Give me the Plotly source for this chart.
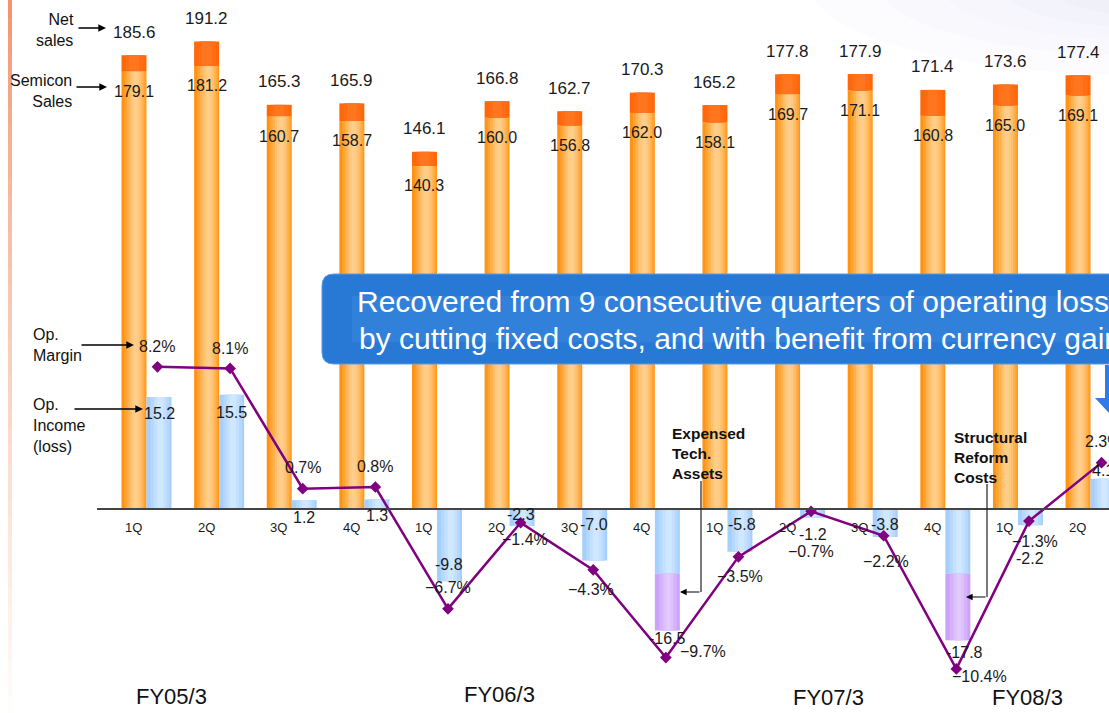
import plotly.graph_objects as go

# ---- data -------------------------------------------------------------
quarters = ["1Q", "2Q", "3Q", "4Q", "1Q", "2Q", "3Q", "4Q",
            "1Q", "2Q", "3Q", "4Q", "1Q", "2Q"]
fiscal_years = ["FY05/3", "FY06/3", "FY07/3", "FY08/3"]
net_sales = [185.6, 191.2, 165.3, 165.9, 146.1, 166.8, 162.7, 170.3,
             165.2, 177.8, 177.9, 171.4, 173.6, 177.4]
semicon_sales = [179.1, 181.2, 160.7, 158.7, 140.3, 160.0, 156.8, 162.0,
                 158.1, 169.7, 171.1, 160.8, 165.0, 169.1]
op_income = [15.2, 15.5, 1.2, 1.3, -9.8, -2.3, -7.0, -16.5,
             -5.8, -1.2, -3.8, -17.8, -2.2, 4.1]
one_time_charges = [0, 0, 0, 0, 0, 0, 0, 7.7, 0, 0, 0, 9.0, 0, 0]
op_margin = [8.2, 8.1, 0.7, 0.8, -6.7, -1.4, -4.3, -9.7,
             -3.5, -0.7, -2.2, -10.4, -1.3, 2.3]

# ---- page geometry ----------------------------------------------------
W, H = 1109, 713
X0, STEP = 146.5, 72.62          # pixel centre of first quarter, spacing
BAR = 25 / STEP                   # one bar width in category units
idx = list(range(len(quarters)))

REGULAR = "Liberation Sans, Arial, sans-serif"
VALUE_SIZE = 16                   # compact value labels


def xdata(px):
    return (px - X0) / STEP


def pxp(px, py):
    return px / W, 1 - py / H


fig = go.Figure()


def layered_bars(base, height, centre, layers, axis):
    """Several overlaid bars of shrinking width give a soft horizontal gradient."""
    for frac, shift, color in layers:
        w = BAR * frac
        fig.add_trace(go.Bar(
            x=idx, y=height, base=base, width=w,
            offset=centre + shift * BAR - w / 2,
            marker=dict(color=color, line=dict(width=0)),
            yaxis=axis, hoverinfo="skip", showlegend=False))


orange_layers = [(1.0, 0, "#FF9414"), (0.84, 0.04, "#FFA332"),
                 (0.66, 0.06, "#FFB24F"), (0.48, 0.07, "#FFBF6B"),
                 (0.30, 0.07, "#FFC97F"), (0.14, 0.07, "#FFCE8A")]
top_layers = [(1.0, 0, "#FF6708"), (0.7, 0.02, "#FF6E14"), (0.4, 0.0, "#FF761F")]
blue_layers = [(1.0, 0, "#A6CFFC"), (0.75, 0.04, "#B5D8FE"),
               (0.5, 0.05, "#C3E0FF"), (0.25, 0.05, "#CFE7FF")]
purple_layers = [(1.0, 0, "#CDA2FA"), (0.7, 0.03, "#D6B2FC"),
                 (0.4, 0.04, "#DEC2FE"), (0.15, 0.04, "#E3CBFF")]

core_income = [o + c for o, c in zip(op_income, one_time_charges)]
charge_height = [-c for c in one_time_charges]
top_height = [n - s for n, s in zip(net_sales, semicon_sales)]

layered_bars([0] * len(idx), semicon_sales, -BAR / 2, orange_layers, "y")
layered_bars(semicon_sales, top_height, -BAR / 2, top_layers, "y")
layered_bars([0] * len(idx), core_income, BAR / 2, blue_layers, "y2")
layered_bars(core_income, charge_height, BAR / 2, purple_layers, "y2")

LINE_DX = 11 / STEP
fig.add_trace(go.Scatter(
    x=[i + LINE_DX for i in idx], y=op_margin, yaxis="y3",
    mode="lines+markers",
    line=dict(color="#800080", width=2.5),
    marker=dict(symbol="diamond", size=9, color="#800080"),
    hoverinfo="skip", showlegend=False))

annotations = []


def label(x, y, yref, text, size, family=REGULAR, dx=0, dy=0):
    annotations.append(dict(x=x, y=y, xref="x", yref=yref, text=text,
                            showarrow=False, xanchor="center", yanchor="middle",
                            xshift=dx, yshift=dy,
                            font=dict(family=family, size=size, color="#1a1a1a")))


# net sales above bars, semicon sales just under the dark cap
for i in idx:
    label(i - BAR / 2, net_sales[i], "y", f"{net_sales[i]:.1f}", 17, dy=23)
    label(i - BAR / 2, semicon_sales[i], "y", f"{semicon_sales[i]:.1f}", VALUE_SIZE, dy=-20)

# operating income labels (pixel nudges: right, down)
income_nudge = [(0, 17), (0, 17.7), (0, 17), (0, 15.6), (0, -17), (-1, -11),
                (-1, -35.6), (0, 8), (2, -27.7), (0, 17), (0, -13), (7, 12.7),
                (0, 33), (0, -8)]
for i in idx:
    dx, dy = income_nudge[i]
    label(i + BAR / 2, op_income[i], "y2", f"{op_income[i]:.1f}", VALUE_SIZE,
          dx=dx, dy=-dy)

# operating margin labels
margin_nudge = [(-1, -20.7), (0, -20), (0, -20.7), (0, -20.7), (0, -21), (4, 16.6),
                (-2.6, 20), (37.6, -6), (1.7, 19.7), (0, 40), (2.7, 25.7),
                (23.3, 7.3), (5.7, 20), (1, -21)]
for i in idx:
    dx, dy = margin_nudge[i]
    v = op_margin[i]
    txt = (f"\u2212{abs(v):.1f}%" if v < 0 else f"{v:.1f}%")
    label(i + LINE_DX, v, "y3", txt, VALUE_SIZE, dx=dx, dy=-dy)

# quarter tick labels under the zero line
for i in idx:
    label(i - 13 / STEP, 0, "y", quarters[i], 13, dy=-18)


def paper_text(text, px, py, size, xanchor="center", align="center", color="#111111", bold=False):
    x, y = pxp(px, py)
    if bold:
        text = f"<b>{text}</b>"
    annotations.append(dict(x=x, y=y, xref="paper", yref="paper", text=text,
                            showarrow=False, align=align, xanchor=xanchor,
                            yanchor="middle",
                            font=dict(family=REGULAR, size=size, color=color)))


# fiscal-year captions
fy_pos = [(171.5, 696), (499, 694), (828, 697), (1027, 697)]
for name, (px, py) in zip(fiscal_years, fy_pos):
    paper_text(name, px, py, 22)


def arrow(x0, y0, x1, y1, width=1.4):
    x, y = pxp(x1, y1)
    annotations.append(dict(x=x, y=y, xref="paper", yref="paper", text="",
                            showarrow=True, ax=x0 - x1, ay=y0 - y1,
                            arrowhead=2, arrowsize=1.1, arrowwidth=width,
                            arrowcolor="#000000"))


# series captions on the left with arrows
paper_text("Net<br>sales", 76, 30, 16, xanchor="right", align="right")
paper_text("Semicon<br>Sales", 74, 91, 16, xanchor="right", align="right")
paper_text("Op.<br>Margin", 31, 345, 16, xanchor="left", align="left")
paper_text("Op.<br>Income<br>(loss)", 31, 425, 16, xanchor="left", align="left")
arrow(77, 28, 106, 28)
arrow(75, 87, 107, 87)
arrow(80, 345, 134, 345)
arrow(73, 409, 143, 409)

# notes for the one-off charges
paper_text("Expensed<br>Tech.<br>Assets", 670, 453, 15.5, xanchor="left", align="left", bold=True)
paper_text("Structural<br>Reform<br>Costs", 952, 457, 15.5, xanchor="left", align="left", bold=True)
arrow(701, 592, 680, 592, 1.2)
arrow(987, 597, 966, 597, 1.2)

# banner text
paper_text("Recovered from 9 consecutive quarters of operating losses", 355, 302, 30,
           xanchor="left", align="left", color="#ffffff")
paper_text("by cutting fixed costs, and with benefit from currency gains", 357, 338, 30,
           xanchor="left", align="left", color="#ffffff")

shapes = []

# pale accent stripe down the left edge
n_seg = 40
for k in range(n_seg):
    t = k / (n_seg - 1)
    r = int(244 + (255 - 244) * t)
    g = int(148 + (252 - 148) * t ** 0.8)
    b = int(108 + (250 - 108) * t ** 0.8)
    x0, y0 = pxp(8, H * k / n_seg)
    x1, y1 = pxp(12, H * (k + 1) / n_seg + 1)
    shapes.append(dict(type="rect", xref="paper", yref="paper", x0=x0, x1=x1,
                       y0=y0, y1=y1, fillcolor=f"rgb({r},{g},{b})",
                       line=dict(width=0), layer="below"))

# soft lavender haze in the top-right corner
for rx, ry in [(330, 90), (260, 70), (200, 55), (140, 42), (90, 30)]:
    cx, cy = 1140, -15
    x0, y0 = pxp(cx - rx, cy - ry)
    x1, y1 = pxp(cx + rx, cy + ry)
    shapes.append(dict(type="circle", xref="paper", yref="paper", x0=x0, x1=x1,
                       y0=y0, y1=y1, fillcolor="#C4C9EE", opacity=0.06,
                       line=dict(width=0), layer="below"))

# zero line
shapes.append(dict(type="line", xref="x", yref="y", x0=xdata(97), x1=xdata(W + 5),
                   y0=0, y1=0, line=dict(color="#444444", width=2), layer="above"))

# elbow lines of the charge notes
for (px, py0, py1) in [(701, 481, 592), (987, 484, 597)]:
    x0, y0 = pxp(px, py0)
    _, y1 = pxp(px, py1)
    shapes.append(dict(type="line", xref="paper", yref="paper", x0=x0, x1=x0,
                       y0=y0, y1=y1, line=dict(color="#222222", width=1.2)))


def P(px, py):
    x, y = pxp(px, py)
    return f"{x:.5f},{y:.5f}"


# rounded banner
L, T, R, B, rr = 322, 274, 1180, 364, 12
banner = (f"M{P(L + rr, T)} L{P(R, T)} L{P(R, B)} L{P(L + rr, B)} "
          f"Q{P(L, B)} {P(L, B - rr)} L{P(L, T + rr)} Q{P(L, T)} {P(L + rr, T)} Z")
shapes.append(dict(type="path", path=banner, xref="paper", yref="paper",
                   fillcolor="#2878D6", line=dict(color="#5A9BE6", width=1), layer="above"))
# lighter sheen in the middle of the banner
sheen = (f"M{P(L + 30, T + 22)} L{P(R, T + 22)} L{P(R, B - 22)} L{P(L + 30, B - 22)} Z")
shapes.append(dict(type="path", path=sheen, xref="paper", yref="paper",
                   fillcolor="#3B8BE2", opacity=0.45, line=dict(width=0), layer="above"))

# downward block arrow hanging from the banner
arr = (f"M{P(1105, 365)} L{P(1118, 365)} L{P(1118, 398)} L{P(1126, 398)} "
       f"L{P(1110, 414)} L{P(1095, 398)} L{P(1105, 398)} Z")
shapes.append(dict(type="path", path=arr, xref="paper", yref="paper",
                   fillcolor="#2F7BE8", line=dict(width=0), layer="above"))

hidden = dict(visible=False, fixedrange=True)
fig.update_layout(
    width=W, height=H,
    margin=dict(l=0, r=0, t=0, b=0),
    paper_bgcolor="#ffffff", plot_bgcolor="rgba(0,0,0,0)",
    barmode="overlay",
    xaxis=dict(range=[xdata(0), xdata(W)], domain=[0, 1], **hidden),
    yaxis=dict(range=[-(H - 509) / 2.445, 509 / 2.445], domain=[0, 1], **hidden),
    yaxis2=dict(range=[-(H - 509) / 7.37, 509 / 7.37], overlaying="y", **hidden),
    yaxis3=dict(range=[-(H - 500) / 16.24, 500 / 16.24], overlaying="y", **hidden),
    annotations=annotations,
    shapes=shapes,
    showlegend=False,
)

fig.write_html("out.html", config=dict(displayModeBar=False, staticPlot=True))
